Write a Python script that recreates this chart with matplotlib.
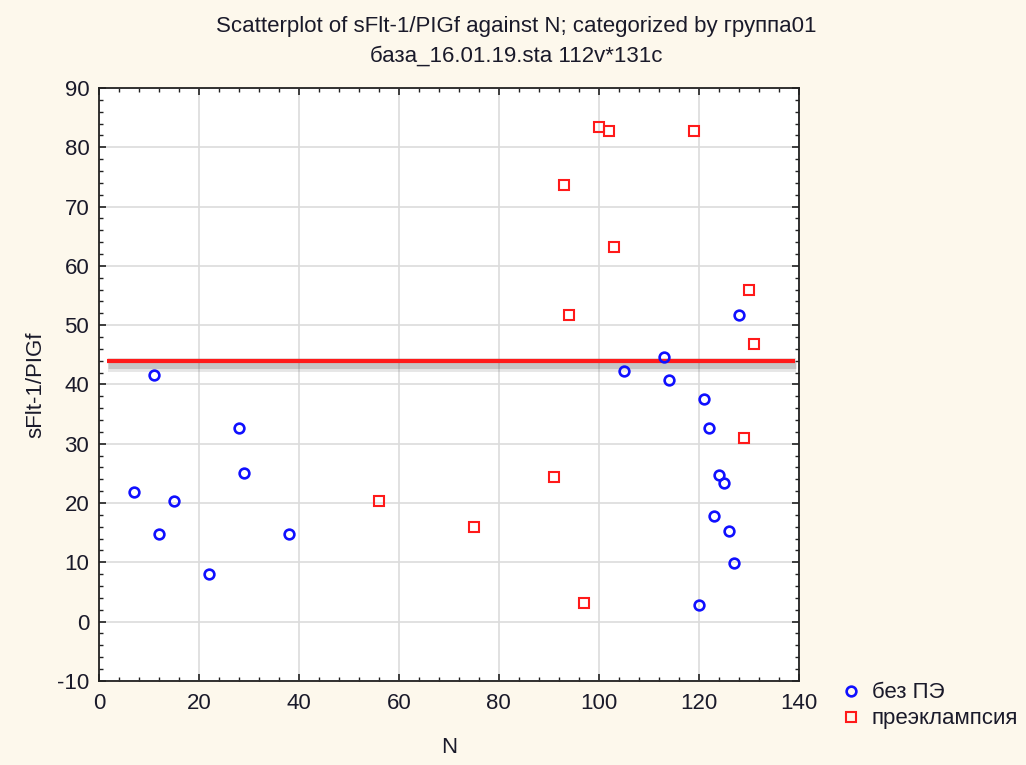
import matplotlib

matplotlib.use("Agg")
import matplotlib.pyplot as plt
from matplotlib.ticker import MultipleLocator, FuncFormatter
import matplotlib.patheffects as pe

plt.rcParams["font.family"] = ["Liberation Sans", "DejaVu Sans"]

BG = "#fdf8ec"
BLUE = "#1010ff"
RED = "#ff1a1a"
TXT = "#1a1a2a"

# без ПЭ
N_NO_PE = [7, 11, 12, 15, 22, 28, 29, 38, 105, 113, 114, 121, 122, 123, 124, 125,
           126, 127, 120, 128]
R_NO_PE = [21.8, 41.6, 14.7, 20.3, 8.1, 32.7, 25.1, 14.7, 42.3, 44.6, 40.8, 37.5,
           32.6, 17.8, 24.8, 23.3, 15.2, 9.9, 2.8, 51.7]

# преэклампсия
N_PE = [56, 75, 91, 93, 94, 97, 100, 102, 103, 119, 129, 130, 131]
R_PE = [20.3, 16.0, 24.3, 73.7, 51.7, 3.1, 83.4, 82.8, 63.1, 82.8, 30.9, 56.0, 46.9]

CUTOFF = 44.0
CUTOFF_SPAN = (1.6, 139.2)

fig = plt.figure(figsize=(10.26, 7.65), dpi=100, facecolor=BG)
ax = fig.add_axes([0.0965, 0.110, 0.682, 0.775])
ax.set_facecolor("white")

ax.set_xlim(0, 140)
ax.set_ylim(-10, 90)
ax.xaxis.set_major_locator(MultipleLocator(20))
ax.xaxis.set_minor_locator(MultipleLocator(4))
ax.yaxis.set_major_locator(MultipleLocator(10))
ax.yaxis.set_minor_locator(MultipleLocator(2))
# plain hyphen for negatives
ax.yaxis.set_major_formatter(FuncFormatter(lambda v, _: f"{v:.0f}"))
ax.grid(True, which="major", color="#dcdcdc", linewidth=1.2)
ax.set_axisbelow(True)

ax.tick_params(which="both", direction="in", top=True, right=True, colors="#222222",
               labelsize=16, labelcolor=TXT)
ax.tick_params(which="major", length=5, width=1.2)
ax.tick_params(which="minor", length=3, width=1.0)
ax.tick_params(axis="x", which="major", pad=9)
ax.tick_params(axis="y", which="major", pad=7)
for sp in ax.spines.values():
    sp.set_color("#222222")
    sp.set_linewidth(1.3)

# cutoff line with a soft drop shadow
ax.plot(CUTOFF_SPAN, [CUTOFF, CUTOFF], color=RED, linewidth=3.0, zorder=3,
        solid_capstyle="butt",
        path_effects=[pe.SimpleLineShadow(offset=(1, -3), shadow_color="#777777",
                                          alpha=0.18, linewidth=10),
                      pe.SimpleLineShadow(offset=(1, -3), shadow_color="#555555",
                                          alpha=0.22, linewidth=5),
                      pe.Normal()])

h1, = ax.plot(N_NO_PE, R_NO_PE, linestyle="none", marker="o", markersize=7,
              markerfacecolor="none", markeredgecolor=BLUE, markeredgewidth=1.9,
              zorder=4)
h2, = ax.plot(N_PE, R_PE, linestyle="none", marker="s", markersize=7,
              markerfacecolor="none", markeredgecolor=RED, markeredgewidth=1.5,
              zorder=4)

ax.set_xlabel("N", fontsize=16, color=TXT, labelpad=16)
ax.set_ylabel("sFlt-1/PIGf", fontsize=16, color=TXT, labelpad=8)

fig.text(0.503, 0.966, "Scatterplot of sFlt-1/PIGf against N; categorized by группа01",
         ha="center", va="center", fontsize=16, color=TXT)
fig.text(0.503, 0.927, "база_16.01.19.sta 112v*131c",
         ha="center", va="center", fontsize=16, color=TXT)

fig.legend([h1, h2], ["без ПЭ", "преэклампсия"], loc="upper left",
           bbox_to_anchor=(0.800, 0.134), frameon=False, fontsize=16,
           handlelength=0.9, handletextpad=0.5, labelspacing=0.22,
           labelcolor=TXT)

fig.savefig("out.png", dpi=100, facecolor=BG)
